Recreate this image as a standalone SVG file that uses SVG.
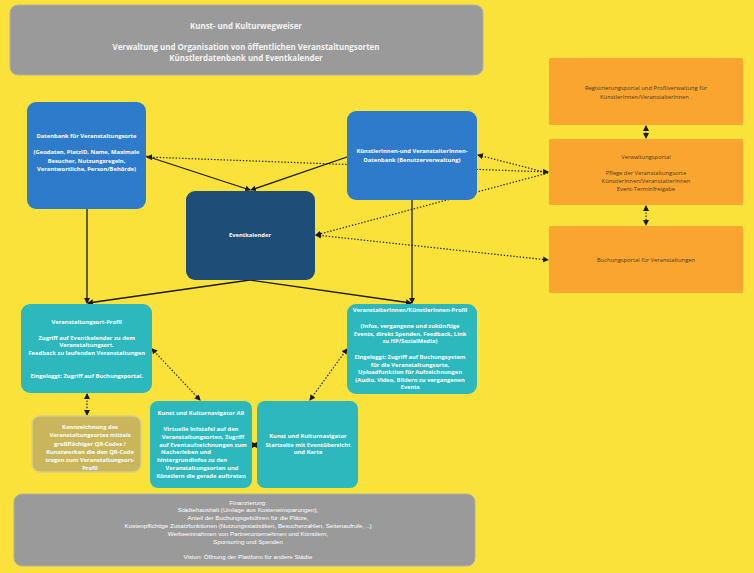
<svg xmlns="http://www.w3.org/2000/svg" width="754" height="573" viewBox="0 0 754 573">
<defs>
<style>
.bg{fill:#FBE23A}
.gray{fill:#9A9A9A;stroke:#B0B0B0;stroke-width:1}
.blue{fill:#2F7BCB}
.dark{fill:#1E4D78}
.orange{fill:#F9A530}
.teal{fill:#2DB8BE}
.gold{fill:#C9B65A;stroke:#D9CD8E;stroke-width:1.5}
.t{font-family:"Open Sans","DejaVu Sans",sans-serif;font-weight:bold;fill:#FFFFFF;text-anchor:middle;font-size:5.8px}
.th{font-family:"Open Sans","DejaVu Sans",sans-serif;font-weight:bold;fill:#F4F4F4;text-anchor:middle;font-size:7.9px}
.to{font-family:"Open Sans","DejaVu Sans",sans-serif;fill:#4D3B22;text-anchor:middle;font-size:5.8px}
.tb{font-family:"Liberation Sans",Arial,sans-serif;fill:#FFFFFF;text-anchor:middle;font-size:6.2px}
.sol{fill:none;stroke:#1A1A1A;stroke-width:1.3}
.dot{fill:none;stroke:#1A1A1A;stroke-width:1.2;stroke-dasharray:1.4 1.8}
</style>
<marker id="ah" markerWidth="6" markerHeight="6" refX="5" refY="3" orient="auto-start-reverse" markerUnits="userSpaceOnUse">
<path d="M0,0 L6,3 L0,6 Z" fill="#1A1A1A"/>
</marker>
</defs>
<rect class="bg" x="0" y="0" width="754" height="573"/>

<g id="connectors">
<line class="sol" x1="146" y1="156" x2="250" y2="190" marker-end="url(#ah)"/>
<line class="sol" x1="347" y1="157" x2="251" y2="190" marker-end="url(#ah)"/>
<line class="sol" x1="87" y1="209" x2="87" y2="303" marker-end="url(#ah)"/>
<line class="sol" x1="412" y1="200" x2="412" y2="303" marker-end="url(#ah)"/>
<line class="sol" x1="250" y1="280" x2="88" y2="303" marker-end="url(#ah)"/>
<line class="sol" x1="250" y1="280" x2="411" y2="303" marker-end="url(#ah)"/>
<line class="dot" x1="548" y1="172" x2="147" y2="157" marker-start="url(#ah)" marker-end="url(#ah)"/>
<line class="dot" x1="548" y1="173" x2="478" y2="155" marker-end="url(#ah)"/>
<line class="dot" x1="548" y1="173" x2="316" y2="235" marker-end="url(#ah)"/>
<line class="dot" x1="316" y1="235" x2="548" y2="260" marker-start="url(#ah)" marker-end="url(#ah)"/>
<line class="dot" x1="646" y1="126" x2="646" y2="138" marker-start="url(#ah)" marker-end="url(#ah)"/>
<line class="dot" x1="646" y1="206" x2="646" y2="225" marker-start="url(#ah)" marker-end="url(#ah)"/>
<line class="dot" x1="87" y1="394" x2="87" y2="415" marker-start="url(#ah)" marker-end="url(#ah)"/>
<line class="dot" x1="152" y1="349" x2="200" y2="400" marker-start="url(#ah)" marker-end="url(#ah)"/>
<line class="dot" x1="347" y1="349" x2="310" y2="400" marker-start="url(#ah)" marker-end="url(#ah)"/>
<line class="dot" x1="252" y1="445" x2="257" y2="445" marker-start="url(#ah)" marker-end="url(#ah)"/>
</g>

<g id="header">
<rect class="gray" x="10" y="5" width="473" height="70" rx="8"/>
<text class="th" x="246" y="28.7">Kunst- und Kulturwegweiser</text>
<text class="th" x="246" y="49.7">Verwaltung und Organisation von öffentlichen Veranstaltungsorten</text>
<text class="th" x="246" y="60.7">Künstlerdatenbank und Eventkalender</text>
</g>

<g id="db-orte">
<rect class="blue" x="27" y="102" width="119" height="107" rx="9"/>
<text class="t" x="86.5" y="138">Datenbank für Veranstaltungsorte</text>
<text class="t" x="86.5" y="154.3">(Geodaten, PlatzID, Name, Maximale</text>
<text class="t" x="86.5" y="162.8">Besucher, Nutzungsregeln,</text>
<text class="t" x="86.5" y="170.5">Verantwortliche, Person/Behörde)</text>
</g>

<g id="db-kuenstler">
<rect class="blue" x="347" y="111" width="130" height="89" rx="9"/>
<text class="t" x="412" y="153.3">KünstlerInnen-und VeranstalterInnen-</text>
<text class="t" x="412" y="162.3">Datenbank (Benutzerverwaltung)</text>
</g>

<g id="eventkalender">
<rect class="dark" x="186" y="191" width="129" height="89" rx="9"/>
<text class="t" x="250" y="237.3">Eventkalender</text>
</g>

<g id="registrierung">
<rect class="orange" x="549" y="58" width="194" height="67" rx="2"/>
<text class="to" x="646" y="90.3">Registrierungsportal und Profilverwaltung für</text>
<text class="to" x="646" y="99.3">KünstlerInnen/VeranstalterInnen .</text>
</g>

<g id="verwaltung">
<rect class="orange" x="549" y="139" width="194" height="66" rx="2"/>
<text class="to" x="646" y="158.7">Verwaltungsportal</text>
<text class="to" x="646" y="174.7">Pflege der Veranstaltungsorte</text>
<text class="to" x="646" y="182.7">KünstlerInnen/VeranstalterInnen</text>
<text class="to" x="646" y="190.5">Event-Terminfreigabe</text>
</g>

<g id="buchung">
<rect class="orange" x="549" y="226" width="194" height="67" rx="2"/>
<text class="to" x="646" y="261.7">Buchungsportal für Veranstaltungen</text>
</g>

<g id="ort-profil">
<rect class="teal" x="21" y="304" width="131" height="89" rx="9"/>
<text class="t" x="86.7" y="324">Veranstaltungsort-Profil</text>
<text class="t" x="86.7" y="339.7">Zugriff auf Eventkalender zu dem</text>
<text class="t" x="86.7" y="346.8">Veranstaltungsort.</text>
<text class="t" x="86.7" y="354.5">Feedback zu laufenden Veranstaltungen</text>
<text class="t" x="86.7" y="378">Eingeloggt: Zugriff auf Buchungsportal.</text>
</g>

<g id="kuenstler-profil">
<rect class="teal" x="347" y="304" width="130" height="90" rx="9"/>
<text class="t" x="410" y="312">VeranstalterInnen/KünstlerInnen-Profil</text>
<text class="t" x="410" y="327.7">(Infos, vergangene und zukünftige</text>
<text class="t" x="410" y="335.5">Events, direkt Spenden, Feedback, Link</text>
<text class="t" x="410" y="343">zu HP/SozialMedia)</text>
<text class="t" x="410" y="359.3">Eingeloggt: Zugriff auf Buchungsystem</text>
<text class="t" x="410" y="366.5">für die Veranstaltungsorte,</text>
<text class="t" x="410" y="374">Uploadfunktion für Aufzeichnungen</text>
<text class="t" x="410" y="381.7">(Audio, Video, Bildern zu vergangenen</text>
<text class="t" x="410" y="389.3">Events</text>
</g>

<g id="qr-kennzeichnung">
<rect class="gold" x="32" y="416" width="109" height="56" rx="8"/>
<text class="t" x="90" y="429">Kennzeichnung des</text>
<text class="t" x="90" y="437.3">Veranstaltungsortes mittels</text>
<text class="t" x="90" y="445.7">großflächiger QR-Codes /</text>
<text class="t" x="90" y="454">Kunstwerken die den QR-Code</text>
<text class="t" x="90" y="462.3">tragen zum Veranstaltungsort-</text>
<text class="t" x="90" y="470.3">Profil</text>
</g>

<g id="navigator-ar">
<rect class="teal" x="150" y="401" width="102" height="87" rx="8"/>
<text class="t" x="201" y="415">Kunst und Kulturnavigator AR</text>
<text class="t" x="201" y="431">Virtuelle Infotafel auf den</text>
<text class="t" x="203" y="438.7">Veranstaltungsorten, Zugriff</text>
<text class="t" x="203" y="446.7">auf Eventaufzeichnungen zum</text>
<text class="t" x="186" y="454.3">Nacherleben und</text>
<text class="t" x="192" y="462.3">hintergrundInfos zu den</text>
<text class="t" x="202" y="470">Veranstaltungsorten und</text>
<text class="t" x="201" y="477.7">Künstlern die gerade auftreten</text>
</g>

<g id="navigator-start">
<rect class="teal" x="257" y="401" width="101" height="87" rx="8"/>
<text class="t" x="308" y="438.3">Kunst und Kulturnavigator</text>
<text class="t" x="308" y="446.7">Startseite mit Eventübersicht</text>
<text class="t" x="308" y="454.3">und Karte</text>
</g>

<g id="finanzierung">
<rect class="gray" x="14" y="494" width="461" height="72" rx="8"/>
<text class="tb" x="248" y="504.5">Finanzierung:</text>
<text class="tb" x="248" y="512.2">Städtehaushalt (Umlage aus Kosteneinsparungen),</text>
<text class="tb" x="248" y="519.9">Anteil der Buchungsgebühren für die Plätze,</text>
<text class="tb" x="248" y="527.5">Kostenpflichtige Zusatzfunktionen (Nutzungsstatistiken, Besucherzahlen, Seitenaufrufe, ..)</text>
<text class="tb" x="248" y="535.5">Werbeeinnahmen von Partnerunternehmen und Künstlern,</text>
<text class="tb" x="248" y="543.5">Sponsoring und Spenden</text>
<text class="tb" x="248" y="558.9">Vision: Öffnung der Plattform für andere Städte</text>
</g>
</svg>
